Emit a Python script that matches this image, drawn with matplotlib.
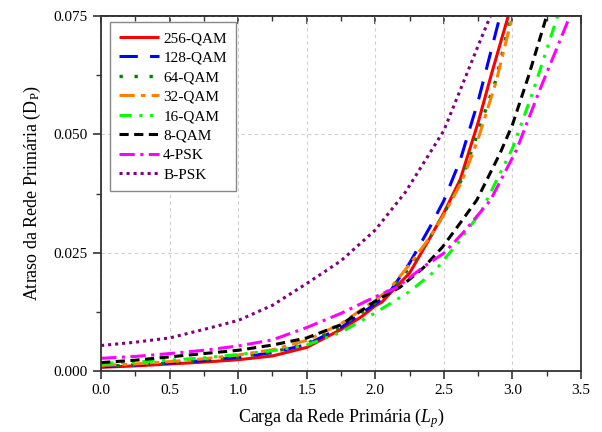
import matplotlib
matplotlib.use("Agg")
import matplotlib.pyplot as plt
from matplotlib.ticker import MultipleLocator, FormatStrFormatter

plt.rcParams['font.family'] = ['Liberation Serif', 'DejaVu Serif']
plt.rcParams['mathtext.fontset'] = 'custom'
plt.rcParams['mathtext.rm'] = 'Liberation Serif'
plt.rcParams['mathtext.it'] = 'Liberation Serif:italic'

labels = ['256-QAM', '128-QAM', '64-QAM', '32-QAM', '16-QAM', '8-QAM', '4-PSK', 'B-PSK']

x_256 = [0, 0.25, 0.5, 0.75, 1.0, 1.25, 1.5, 1.75, 1.9, 2.0, 2.05, 2.1, 2.25, 2.4, 2.5, 2.62, 2.75, 2.85, 2.97]
y_256 = [0.0008, 0.0011, 0.0015, 0.0019, 0.0024, 0.0032, 0.0050, 0.0088, 0.0115, 0.0138, 0.0146, 0.0162,
         0.0207, 0.0282, 0.0334, 0.0405, 0.0525, 0.0630, 0.075]

x_128 = [0, 0.25, 0.5, 0.75, 1.0, 1.25, 1.5, 1.75, 2.0, 2.1, 2.25, 2.4, 2.5, 2.62, 2.75, 2.91]
y_128 = [0.0009, 0.0013, 0.0017, 0.0022, 0.0029, 0.0039, 0.0056, 0.0092, 0.0142, 0.0165, 0.0228, 0.0305,
         0.0360, 0.0446, 0.0570, 0.075]

x_64 = [0, 0.25, 0.5, 0.75, 1.0, 1.25, 1.5, 1.75, 2.0, 2.1, 2.25, 2.4, 2.5, 2.63, 2.75, 2.88, 2.99]
y_64 = [0.0010, 0.0013, 0.0017, 0.0023, 0.0030, 0.0040, 0.0058, 0.0094, 0.0144, 0.0168, 0.0218, 0.0282,
        0.0332, 0.0405, 0.0505, 0.0615, 0.075]

x_32 = [0, 0.25, 0.5, 0.75, 1.0, 1.25, 1.5, 1.75, 2.0, 2.1, 2.25, 2.4, 2.5, 2.63, 2.75, 2.88, 3.0]
y_32 = [0.0012, 0.0015, 0.0020, 0.0026, 0.0034, 0.0045, 0.0065, 0.0100, 0.0150, 0.0172, 0.0225, 0.0283,
        0.0330, 0.0400, 0.0490, 0.0610, 0.075]

x_16 = [0, 0.25, 0.5, 0.75, 1.0, 1.25, 1.5, 1.75, 2.0, 2.25, 2.43, 2.6, 2.77, 3.0, 3.15, 3.33]
y_16 = [0.0016, 0.0019, 0.0023, 0.0028, 0.0035, 0.0043, 0.0055, 0.0082, 0.0123, 0.0168, 0.0210, 0.0270,
        0.0336, 0.0470, 0.0590, 0.075]

x_8 = [0, 0.25, 0.5, 0.75, 1.0, 1.25, 1.5, 1.75, 2.0, 2.18, 2.35, 2.49, 2.62, 2.74, 2.91, 3.0, 3.12, 3.25]
y_8 = [0.0018, 0.0023, 0.0030, 0.0037, 0.0044, 0.0055, 0.0070, 0.0098, 0.0148, 0.0177, 0.0218, 0.0262,
       0.0313, 0.0361, 0.0460, 0.0520, 0.0625, 0.075]

x_4 = [0, 0.25, 0.5, 0.75, 1.0, 1.25, 1.5, 1.75, 2.0, 2.16, 2.35, 2.5, 2.64, 2.84, 3.03, 3.2, 3.42]
y_4 = [0.0027, 0.0031, 0.0037, 0.0044, 0.0053, 0.0066, 0.0092, 0.0122, 0.0157, 0.0177, 0.0220, 0.0249,
       0.0292, 0.0361, 0.0467, 0.0594, 0.075]

x_b = [0, 0.25, 0.5, 0.75, 1.0, 1.25, 1.5, 1.75, 2.0, 2.22, 2.5, 2.75, 2.84]
y_b = [0.0054, 0.0061, 0.0070, 0.0088, 0.0107, 0.0139, 0.0185, 0.0233, 0.0298, 0.0378, 0.0508, 0.0687, 0.075]

series_x = [x_256, x_128, x_64, x_32, x_16, x_8, x_4, x_b]
series_y = [y_256, y_128, y_64, y_32, y_16, y_8, y_4, y_b]
colors = ['#FF0000', '#0000FF', '#008000', '#FF8000', '#00FF00', '#000000', '#FF00FF', '#800080']
styles = ['-', (0, (6, 4)), (0, (1, 3.5)), (0, (5, 2, 1.5, 2)), (0, (4, 2.5, 1, 2.5, 1, 2.5)),
          (0, (3, 1.8)), (0, (5, 1.8, 1, 1.8)), (0, (1, 1.3))]
widths = [2.2, 2.2, 2.4, 2.2, 2.2, 2.2, 2.2, 2.2]

fig = plt.figure(figsize=(6.02, 4.32), dpi=100)
ax = fig.add_axes([0.168, 0.141, 0.797, 0.822])

for xs, ys, c, ls, lw, lab in zip(series_x, series_y, colors, styles, widths, labels):
    ax.plot(xs, ys, color=c, linestyle=ls, linewidth=lw, label=lab,
            dash_capstyle='butt', solid_capstyle='butt')

ax.set_xlim(0, 3.5)
ax.set_ylim(0, 0.075)
ax.xaxis.set_major_locator(MultipleLocator(0.5))
ax.xaxis.set_minor_locator(MultipleLocator(0.25))
ax.yaxis.set_major_locator(MultipleLocator(0.025))
ax.yaxis.set_minor_locator(MultipleLocator(0.0125))
ax.xaxis.set_major_formatter(FormatStrFormatter('%.1f'))
ax.yaxis.set_major_formatter(FormatStrFormatter('%.3f'))

ax.grid(True, which='major', color='#cfcfcf', linestyle=(0, (3, 3)), linewidth=0.8)
ax.set_axisbelow(True)

for s in ax.spines.values():
    s.set_linewidth(1.3)
    s.set_color('#333333')

ax.tick_params(axis='both', which='both', direction='out', labelsize=11, color='#333333')
ax.tick_params(which='major', length=6, width=1.2)
ax.tick_params(which='minor', length=3.5, width=1.0)

# top ticks inward
ax_top = ax.secondary_xaxis('top')
ax_top.xaxis.set_major_locator(MultipleLocator(0.5))
ax_top.xaxis.set_minor_locator(MultipleLocator(0.25))
ax_top.tick_params(which='both', direction='in', labeltop=False, color='#333333')
ax_top.tick_params(which='major', length=6, width=1.2)
ax_top.tick_params(which='minor', length=3.5, width=1.0)
ax_top.spines['top'].set_linewidth(1.3)
ax_top.spines['top'].set_color('#333333')

ax.set_xlabel('Carga da Rede Primária ($L_p$)', fontsize=13, labelpad=6)
ax.set_ylabel('Atraso da Rede Primária (D$_\\mathrm{P}$)', fontsize=13, labelpad=8)

leg = ax.legend(loc='upper left', bbox_to_anchor=(0.018, 0.982), fontsize=11, frameon=True,
                fancybox=False, edgecolor='#888888', framealpha=1, handlelength=2.6,
                labelspacing=0.38, borderpad=0.6, handletextpad=0.3, borderaxespad=0)
leg.get_frame().set_linewidth(1.0)

fig.savefig('out.png', dpi=100)
